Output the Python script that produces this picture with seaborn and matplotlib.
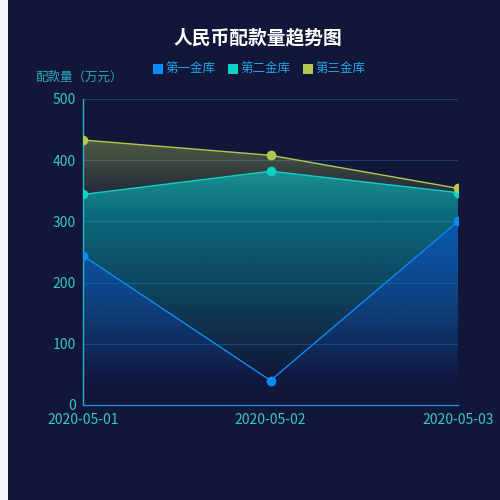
import numpy as np
import pandas as pd
import seaborn as sns
import matplotlib.pyplot as plt
from matplotlib.colors import to_rgb

# data
dates = ['2020-05-01', '2020-05-02', '2020-05-03']
kuku1 = [244, 40, 300]
kuku2 = [344, 382, 347]
kuku3 = [433, 408, 354]
names = ['第一金库', '第二金库', '第三金库']
colors = ['#0a8cf0', '#0fd0c4', '#b3c84e']
y_ticks = [0, 100, 200, 300, 400, 500]

# area gradient: fill colour, alpha at the top, value where it fades out
fill_colors = ['#0a4bdc', '#06c6c8', '#b3c84e']
top_alpha = [0.55, 0.6, 0.38]
fade_at = [20, 45, 310]

bg = '#12173a'
sns.set_theme(style='dark')
plt.rcParams['font.family'] = ['Noto Sans CJK SC', 'DejaVu Sans']

fig = plt.figure(figsize=(5, 5), dpi=100, facecolor='#f3f5fa')
fig.patches.append(plt.Rectangle((8 / 500, 0), 1, 1, transform=fig.transFigure,
                                 facecolor=bg, linewidth=0, zorder=-10))
ax = fig.add_axes([0.166, 0.19, 0.75, 0.612])
ax.set_facecolor('none')

df = pd.DataFrame({
    'date': dates * 3,
    'value': kuku1 + kuku2 + kuku3,
    'name': [names[0]] * 3 + [names[1]] * 3 + [names[2]] * 3,
})
df['x'] = df['date'].map({d: i for i, d in enumerate(dates)})

# gradient areas, back series first
series = [kuku1, kuku2, kuku3]
xs = np.arange(len(dates))
for i in [2, 1, 0]:
    vals = series[i]
    top = max(vals)
    poly = ax.fill_between(xs, vals, 0, facecolor='none', edgecolor='none')
    v = np.linspace(0, top, 300)
    a = top_alpha[i] * np.clip((v - fade_at[i]) / (top - fade_at[i]), 0, 1)
    img = np.zeros((300, 1, 4))
    img[:, 0, :3] = to_rgb(fill_colors[i])
    img[:, 0, 3] = a
    im = ax.imshow(img, aspect='auto', origin='lower', interpolation='bilinear',
                   extent=[0, 2, 0, top], zorder=1 + (2 - i) * 0.1)
    im.set_clip_path(poly.get_paths()[0], transform=ax.transData)

sns.lineplot(data=df, x='x', y='value', hue='name', palette=colors, marker='o',
             markersize=7, markeredgewidth=0, linewidth=1, ax=ax, legend=False,
             zorder=3)

ax.set_xlim(0, 2)
ax.set_ylim(0, 500)
ax.set_xticks(xs)
ax.set_xticklabels(dates)
ax.set_yticks(y_ticks)
ax.set_xlabel('')
ax.set_ylabel('')
ax.grid(False)
for t in y_ticks[1:]:
    ax.axhline(t, color='#1a3d72', linewidth=0.8, zorder=0.5)
ax.tick_params(axis='both', colors='#35c5c8', labelsize=10, length=0)
ax.tick_params(axis='x', pad=6)
ax.tick_params(axis='y', pad=5)
for lab in ax.get_xticklabels() + ax.get_yticklabels():
    lab.set_color('#35c5c8')
for s in ['top', 'right']:
    ax.spines[s].set_visible(False)
ax.spines['left'].set_color('#22b0cc')
ax.spines['bottom'].set_color('#2a8ad0')
ax.spines['left'].set_linewidth(1)
ax.spines['bottom'].set_linewidth(1)

fig.text(0.516, 0.924, '人民币配款量趋势图', color='white', fontsize=13.5,
         fontweight='bold', ha='center', va='center')
fig.text(0.157, 0.846, '配款量（万元）', color='#2aa8b8', fontsize=9,
         ha='center', va='center')

handles = [plt.Line2D([], [], marker='s', linestyle='none', markersize=7.5,
                      markerfacecolor=c, markeredgewidth=0) for c in colors]
leg = fig.legend(handles, names, loc='center', bbox_to_anchor=(0.517, 0.861),
                 ncol=3, frameon=False, fontsize=9, handletextpad=0.1,
                 columnspacing=0.9, handlelength=1.0)
for t in leg.get_texts():
    t.set_color('#1fa4e4')

fig.savefig('out.png', dpi=100, facecolor=fig.get_facecolor())
